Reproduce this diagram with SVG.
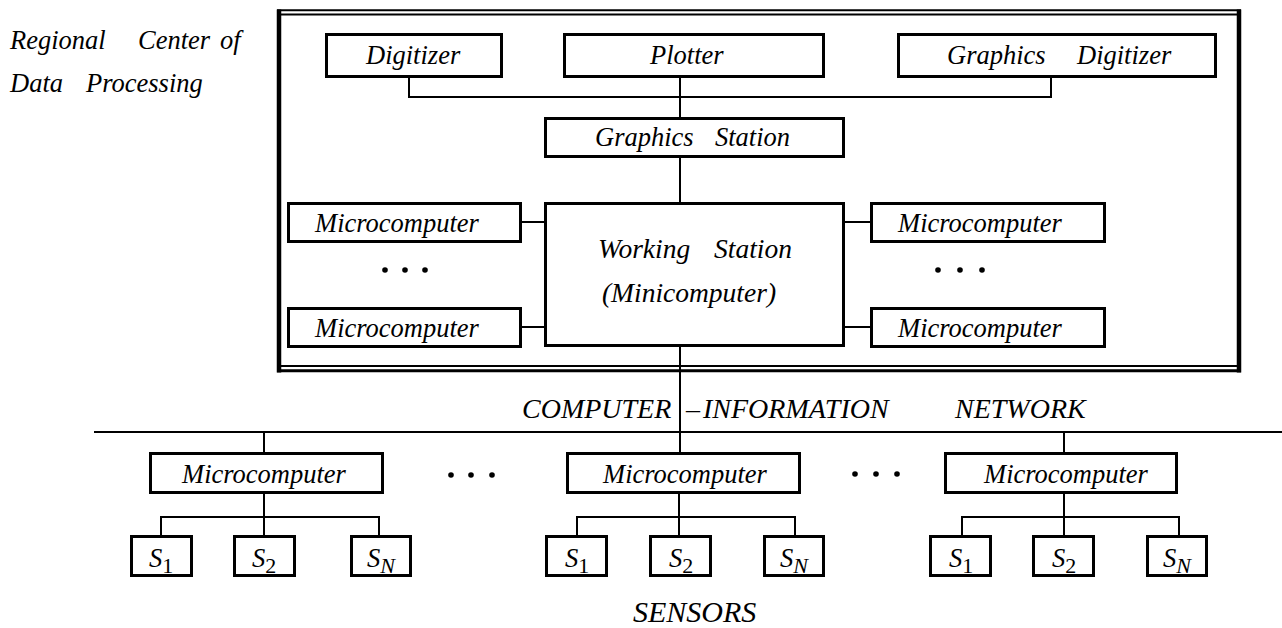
<svg xmlns="http://www.w3.org/2000/svg" width="1282" height="628" viewBox="0 0 1282 628">
<style>
text{font-family:"Liberation Serif","Times New Roman",serif;font-style:italic;fill:#000}
.lbl{font-size:26.5px}
.big{font-size:28px}
.box{fill:#fff;stroke:#000;stroke-width:3}
.ln{stroke:#000;stroke-width:2;fill:none}
.dot{fill:#000}
.sub{font-style:normal;font-size:22px}
.subi{font-size:22px}
</style>
<rect width="1282" height="628" fill="#fff"/>

<g id="frame">
<line x1="279" y1="9.5" x2="279" y2="372.5" stroke="#000" stroke-width="4.5"/>
<line x1="1239" y1="9.5" x2="1239" y2="372.5" stroke="#000" stroke-width="4.5"/>
<line x1="277" y1="10.3" x2="1241" y2="10.3" stroke="#000" stroke-width="2"/>
<line x1="281" y1="14.5" x2="1237" y2="14.5" stroke="#000" stroke-width="2"/>
<line x1="281" y1="366" x2="1237" y2="366" stroke="#000" stroke-width="2"/>
<line x1="277" y1="370.8" x2="1241" y2="370.8" stroke="#000" stroke-width="3"/>
</g>

<g id="title">
<text class="lbl"><tspan x="10" y="49">Regional</tspan><tspan x="138" y="49">Center</tspan><tspan x="220" y="49">of</tspan></text>
<text class="lbl"><tspan x="10" y="92">Data</tspan><tspan x="86" y="92">Processing</tspan></text>
</g>

<g id="connectors">
<polyline class="ln" points="409,78 409,97 1051,97 1051,78"/>
<line class="ln" x1="680" y1="78" x2="680" y2="117"/>
<line class="ln" x1="680" y1="158" x2="680" y2="202"/>
<line class="ln" x1="680" y1="347" x2="680" y2="452"/>
<line class="ln" x1="522" y1="222" x2="544" y2="222"/>
<line class="ln" x1="522" y1="327" x2="544" y2="327"/>
<line class="ln" x1="845" y1="222" x2="870" y2="222"/>
<line class="ln" x1="845" y1="327" x2="870" y2="327"/>
<line class="ln" x1="94" y1="432" x2="1282" y2="432"/>
<line class="ln" x1="264" y1="432" x2="264" y2="452"/>
<line class="ln" x1="1064" y1="432" x2="1064" y2="452"/>
<line class="ln" x1="264" y1="494" x2="264" y2="535"/>
<polyline class="ln" points="161,535 161,517 379,517 379,535"/>
<line class="ln" x1="679" y1="494" x2="679" y2="535"/>
<polyline class="ln" points="577,535 577,517 795,517 795,535"/>
<line class="ln" x1="1064" y1="494" x2="1064" y2="535"/>
<polyline class="ln" points="962,535 962,517 1179,517 1179,535"/>
</g>

<g id="digitizer"><rect class="box" x="326.5" y="34.5" width="175" height="42"/><text class="lbl" x="366" y="64">Digitizer</text></g>
<g id="plotter"><rect class="box" x="564.5" y="34.5" width="259" height="42"/><text class="lbl" x="650" y="64">Plotter</text></g>
<g id="graphics-digitizer"><rect class="box" x="898.5" y="34.5" width="317" height="42"/><text class="lbl"><tspan x="947" y="64">Graphics</tspan><tspan x="1077" y="64">Digitizer</tspan></text></g>
<g id="graphics-station"><rect class="box" x="545.5" y="118.5" width="298" height="38"/><text class="lbl"><tspan x="595" y="146">Graphics</tspan><tspan x="715" y="146">Station</tspan></text></g>
<g id="working-station"><rect class="box" x="545.5" y="203.5" width="298" height="142"/><text class="lbl" style="font-size:27.5px"><tspan x="598" y="258">Working</tspan><tspan x="714" y="258">Station</tspan></text><text class="lbl" style="font-size:27.5px" x="689" y="302" text-anchor="middle">(Minicomputer)</text></g>

<g id="micro-left-1"><rect class="box" x="288.5" y="203.5" width="232" height="38"/><text class="lbl" x="397" y="232" text-anchor="middle">Microcomputer</text></g>
<g id="micro-left-2"><rect class="box" x="288.5" y="308.5" width="232" height="38"/><text class="lbl" x="397" y="337" text-anchor="middle">Microcomputer</text></g>
<g id="micro-right-1"><rect class="box" x="871.5" y="203.5" width="233" height="38"/><text class="lbl" x="980" y="232" text-anchor="middle">Microcomputer</text></g>
<g id="micro-right-2"><rect class="box" x="871.5" y="308.5" width="233" height="38"/><text class="lbl" x="980" y="337" text-anchor="middle">Microcomputer</text></g>

<g id="dots">
<circle class="dot" cx="385" cy="270" r="2.8"/><circle class="dot" cx="405" cy="270" r="2.8"/><circle class="dot" cx="425" cy="270" r="2.8"/>
<circle class="dot" cx="938" cy="270" r="2.8"/><circle class="dot" cx="960" cy="270" r="2.8"/><circle class="dot" cx="982" cy="270" r="2.8"/>
<circle class="dot" cx="451" cy="475" r="2.8"/><circle class="dot" cx="471" cy="475" r="2.8"/><circle class="dot" cx="492" cy="475" r="2.8"/>
<circle class="dot" cx="855" cy="474" r="2.8"/><circle class="dot" cx="876" cy="474" r="2.8"/><circle class="dot" cx="897" cy="474" r="2.8"/>
</g>

<g id="network-label">
<text class="big"><tspan x="522" y="418">COMPUTER</tspan><tspan x="686" y="418">–</tspan><tspan x="703" y="418">INFORMATION</tspan><tspan x="955" y="418">NETWORK</tspan></text>
</g>

<g id="micro-b1"><rect class="box" x="150.5" y="453.5" width="232" height="39"/><text class="lbl" x="264" y="483" text-anchor="middle">Microcomputer</text></g>
<g id="micro-b2"><rect class="box" x="567.5" y="453.5" width="232" height="39"/><text class="lbl" x="685" y="483" text-anchor="middle">Microcomputer</text></g>
<g id="micro-b3"><rect class="box" x="945.5" y="453.5" width="231" height="39"/><text class="lbl" x="1066" y="483" text-anchor="middle">Microcomputer</text></g>

<g id="s1-a"><rect class="box" x="131.5" y="536.5" width="60" height="39"/><text class="lbl" x="161" y="567" text-anchor="middle">S<tspan class="sub" dy="6">1</tspan></text></g>
<g id="s2-a"><rect class="box" x="234.5" y="536.5" width="60" height="39"/><text class="lbl" x="264" y="567" text-anchor="middle">S<tspan class="sub" dy="6">2</tspan></text></g>
<g id="sn-a"><rect class="box" x="351.5" y="536.5" width="59" height="39"/><text class="lbl" x="381" y="567" text-anchor="middle">S<tspan class="subi" dy="6">N</tspan></text></g>
<g id="s1-b"><rect class="box" x="546.5" y="536.5" width="60" height="39"/><text class="lbl" x="577" y="567" text-anchor="middle">S<tspan class="sub" dy="6">1</tspan></text></g>
<g id="s2-b"><rect class="box" x="650.5" y="536.5" width="60" height="39"/><text class="lbl" x="681" y="567" text-anchor="middle">S<tspan class="sub" dy="6">2</tspan></text></g>
<g id="sn-b"><rect class="box" x="764.5" y="536.5" width="59" height="39"/><text class="lbl" x="794" y="567" text-anchor="middle">S<tspan class="subi" dy="6">N</tspan></text></g>
<g id="s1-c"><rect class="box" x="930.5" y="536.5" width="60" height="39"/><text class="lbl" x="961" y="567" text-anchor="middle">S<tspan class="sub" dy="6">1</tspan></text></g>
<g id="s2-c"><rect class="box" x="1033.5" y="536.5" width="60" height="39"/><text class="lbl" x="1064" y="567" text-anchor="middle">S<tspan class="sub" dy="6">2</tspan></text></g>
<g id="sn-c"><rect class="box" x="1147.5" y="536.5" width="59" height="39"/><text class="lbl" x="1177" y="567" text-anchor="middle">S<tspan class="subi" dy="6">N</tspan></text></g>

<g id="sensors-label"><text x="633" y="622" style="font-size:30px">SENSORS</text></g>
</svg>
